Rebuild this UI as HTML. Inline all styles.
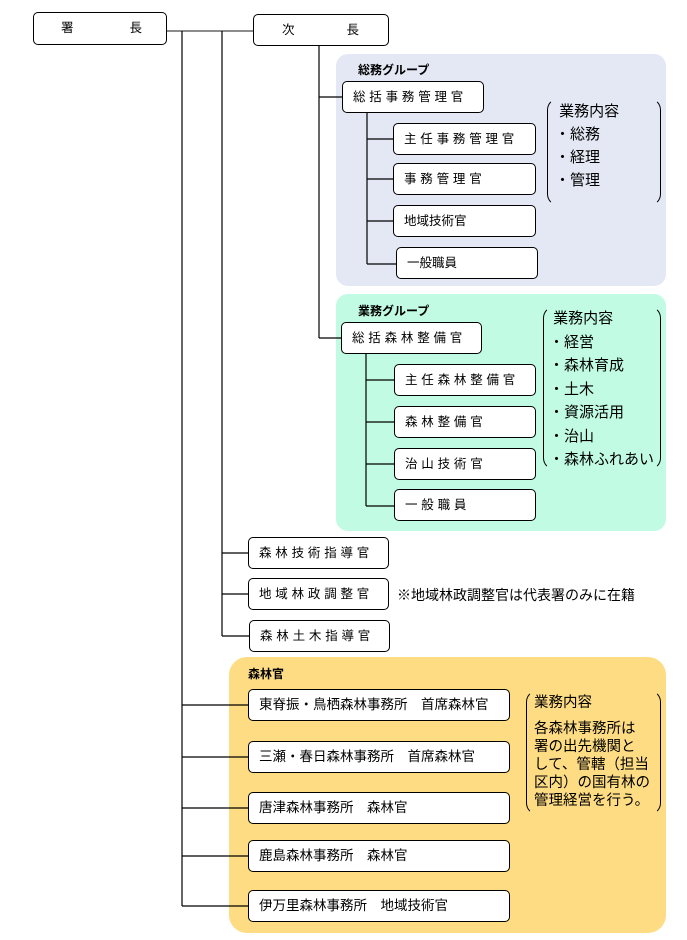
<!DOCTYPE html>
<html><head><meta charset="utf-8"><style>
body{margin:0;width:687px;height:940px;background:#fff;position:relative;overflow:hidden;font-family:"Liberation Sans","Noto Sans CJK JP",sans-serif;color:#000}
.a{position:absolute}
.b{position:absolute;box-sizing:border-box;border:1px solid #000;border-radius:5px;background:#fff;font-size:12.5px;line-height:30px;padding-left:10px;white-space:nowrap}
.ls{letter-spacing:3.8px}
.p{position:absolute;border-radius:12px}
.g{font-size:12px;font-weight:bold;position:absolute}
.br{position:absolute;box-sizing:border-box;border:1px solid #000;border-top-color:transparent;border-bottom-color:transparent;border-radius:12px;font-size:15px;line-height:23px;padding-left:7px;white-space:nowrap}
</style></head><body>
<div class="p" style="left:336px;top:54px;width:330px;height:232px;background:#e3e8f4"></div>
<div class="p" style="left:336px;top:294px;width:330px;height:237px;background:#c1fbe3"></div>
<div class="p" style="left:229px;top:657px;width:437px;height:276px;background:#fddc83;border-radius:18px"></div>
<svg class="a" style="left:0;top:0" width="687" height="940">
<g stroke="#000" stroke-width="1.2" fill="none">
<path d="M167 31H253" stroke="#666" stroke-width="1.6"/>
<path d="M182 31V906M222 31V636M319 46V338"/>
<path d="M319 97H342M319 338H341"/>
<path d="M367 113V264M367 139H393M367 179H393M367 221H393M367 264H396"/>
<path d="M366 354V506M366 380H394M366 422H394M366 464H394M366 506H394"/>
<path d="M222 553H248M222 594H248M222 636H249"/>
<path d="M182 705H248M182 757H248M182 808H248M182 856H248M182 906H248"/>
</g></svg>
<div class="b" style="left:33px;top:12px;width:134px;height:33px;line-height:31px;padding-left:27px">署<span style="display:inline-block;width:56px"></span>長</div>
<div class="b" style="left:253px;top:14px;width:136px;height:32px;line-height:30px;padding-left:28px">次<span style="display:inline-block;width:52px"></span>長</div>

<div class="g" style="left:358px;top:61px">総務グループ</div>
<div class="b ls" style="left:342px;top:81px;width:142px;height:32px">総括事務管理官</div>
<div class="b ls" style="left:393px;top:123px;width:143px;height:32px">主任事務管理官</div>
<div class="b ls" style="left:393px;top:163px;width:143px;height:32px">事務管理官</div>
<div class="b" style="left:393px;top:205px;width:143px;height:32px">地域技術官</div>
<div class="b" style="left:396px;top:247px;width:142px;height:32px">一般職員</div>
<div class="br" style="left:547px;top:98px;width:114px;height:108px;padding-top:1px">&nbsp;業務内容<br>・総務<br>・経理<br>・管理</div>

<div class="g" style="left:358px;top:302px">業務グループ</div>
<div class="b ls" style="left:341px;top:322px;width:141px;height:32px">総括森林整備官</div>
<div class="b ls" style="left:394px;top:364px;width:142px;height:32px">主任森林整備官</div>
<div class="b ls" style="left:394px;top:406px;width:142px;height:32px">森林整備官</div>
<div class="b ls" style="left:394px;top:448px;width:142px;height:32px">治山技術官</div>
<div class="b ls" style="left:394px;top:489px;width:142px;height:32px">一般職員</div>
<div class="br" style="left:543px;top:306px;width:118px;height:164px;padding-top:0;line-height:23.5px;padding-left:5px">&nbsp;業務内容<br>・経営<br>・森林育成<br>・土木<br>・資源活用<br>・治山<br>・森林ふれあい</div>

<div class="b ls" style="left:248px;top:537px;width:141px;height:32px">森林技術指導官</div>
<div class="b ls" style="left:248px;top:578px;width:141px;height:32px">地域林政調整官</div>
<div class="b ls" style="left:249px;top:620px;width:141px;height:32px">森林土木指導官</div>
<div class="a" style="left:397px;top:585px;font-size:14px">※地域林政調整官は代表署のみに在籍</div>

<div class="g" style="left:248px;top:665px">森林官</div>
<div class="b" style="left:248px;top:689px;width:262px;height:32px;font-size:13.5px">東脊振・鳥栖森林事務所　首席森林官</div>
<div class="b" style="left:248px;top:741px;width:262px;height:32px;font-size:13.5px">三瀬・春日森林事務所　首席森林官</div>
<div class="b" style="left:248px;top:792px;width:262px;height:32px;font-size:13.5px">唐津森林事務所　森林官</div>
<div class="b" style="left:248px;top:840px;width:262px;height:32px;font-size:13.5px">鹿島森林事務所　森林官</div>
<div class="b" style="left:248px;top:890px;width:262px;height:32px;font-size:13.5px">伊万里森林事務所　地域技術官</div>
<div class="br" style="left:526px;top:690px;width:135px;height:125px;line-height:18px;padding-top:3px;font-size:14.5px">業務内容<div style="height:8px"></div>各森林事務所は<br>署の出先機関と<br>して、管轄（担当<br>区内）の国有林の<br>管理経営を行う。</div>
</body></html>
